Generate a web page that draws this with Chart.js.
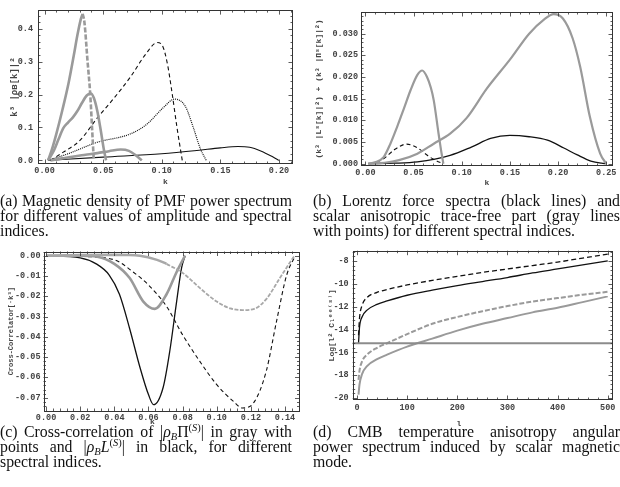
<!DOCTYPE html>
<html>
<head>
<meta charset="utf-8">
<script src="https://cdn.jsdelivr.net/npm/chart.js@4"></script>
<style>
body { margin: 0; background: #fff; width: 620px; height: 487px; position: relative; overflow: hidden; }
canvas { position: absolute; }
.legenda { position: absolute; font-family: "Liberation Serif", "DejaVu Serif", serif; font-size: 15.8px; line-height: 15px; color: #111; }
.legenda div { white-space: nowrap; text-align: justify; text-align-last: justify; height: 15px; }
.legenda div.fim { text-align-last: left; }
.ind { font-size: 10.5px; position: relative; line-height: 0; vertical-align: baseline; }
.sub { top: 3px; }
.sup { top: -6px; }
</style>
</head>
<body>
<canvas id="painelA" width="300" height="195" style="left:0;top:0"></canvas>
<canvas id="painelB" width="310" height="195" style="left:310px;top:0"></canvas>
<canvas id="painelC" width="310" height="195" style="left:0;top:240px"></canvas>
<canvas id="painelD" width="310" height="195" style="left:310px;top:240px"></canvas>

<div class="legenda" style="left:0;top:193px;width:292px">
  <div>(a) Magnetic density of PMF power spectrum</div>
  <div>for different values of amplitude and spectral</div>
  <div class="fim">indices.</div>
</div>
<div class="legenda" style="left:313px;top:193px;width:307px">
  <div>(b) Lorentz force spectra (black lines) and</div>
  <div>scalar anisotropic trace-free part (gray lines</div>
  <div class="fim">with points) for different spectral indices.</div>
</div>
<div class="legenda" style="left:0;top:424px;width:292px">
  <div>(c) Cross-correlation of |<i>ρ</i><span class="ind sub"><i>B</i></span>Π<span class="ind sup">(<i>S</i>)</span>| in gray with</div>
  <div>points and |<i>ρ</i><span class="ind sub"><i>B</i></span><i>L</i><span class="ind sup">(<i>S</i>)</span>| in black, for different</div>
  <div class="fim">spectral indices.</div>
</div>
<div class="legenda" style="left:313px;top:424px;width:307px">
  <div>(d) CMB temperature anisotropy angular</div>
  <div>power spectrum induced by scalar magnetic</div>
  <div class="fim">mode.</div>
</div>

<script>
// ---------- (a) densidade magnética ----------
const kA_cinza1 = [0.003, 0.006, 0.01, 0.015, 0.0205, 0.025, 0.028, 0.031, 0.0325, 0.034, 0.0367, 0.039, 0.0405, 0.042];
const yA_cinza1 = [0, 0.03, 0.08, 0.15, 0.235, 0.32, 0.38, 0.43, 0.445, 0.42, 0.3, 0.2, 0.1, 0];
const kA_cinza2 = [0.003, 0.008, 0.012, 0.016, 0.02, 0.024, 0.028, 0.032, 0.036, 0.0395, 0.042, 0.045, 0.048, 0.0505, 0.0525];
const yA_cinza2 = [0, 0.03, 0.065, 0.098, 0.115, 0.13, 0.15, 0.175, 0.197, 0.203, 0.19, 0.15, 0.09, 0.035, 0];
const kA_cinza3 = [0.005, 0.015, 0.025, 0.035, 0.045, 0.055, 0.065, 0.072, 0.078, 0.083];
const yA_cinza3 = [0, 0.006, 0.012, 0.017, 0.022, 0.028, 0.033, 0.029, 0.015, 0];
const kA_tracejada = [0.005, 0.016, 0.03, 0.045, 0.059, 0.073, 0.087, 0.096, 0.101, 0.105, 0.109, 0.113, 0.1175];
const yA_tracejada = [0, 0.025, 0.06, 0.129, 0.188, 0.252, 0.326, 0.358, 0.345, 0.29, 0.2, 0.1, 0];
const kA_pontilhada = [0.003, 0.02, 0.045, 0.073, 0.087, 0.101, 0.111, 0.12, 0.127, 0.133, 0.138];
const yA_pontilhada = [0, 0.02, 0.055, 0.08, 0.109, 0.159, 0.186, 0.165, 0.099, 0.035, 0];
const kA_solida = [0.003, 0.05, 0.1, 0.13, 0.15, 0.165, 0.175, 0.185, 0.195, 0.2];
const yA_solida = [0, 0.01, 0.02, 0.03, 0.038, 0.042, 0.04, 0.028, 0.01, 0];
const ticksXA = [0, 0.05, 0.1, 0.15, 0.2];
const ticksYA = [0, 0.1, 0.2, 0.3, 0.4];

// ---------- (b) força de Lorentz ----------
const kB_cinza1 = [0.003, 0.01, 0.019, 0.026, 0.033, 0.04, 0.047, 0.054, 0.059, 0.064, 0.068, 0.071, 0.076, 0.079, 0.081];
const yB_cinza1 = [0, 0.0003, 0.0015, 0.0046, 0.0085, 0.0127, 0.017, 0.0205, 0.0215, 0.02, 0.0175, 0.0146, 0.0069, 0.0025, 0];
const kB_cinza2 = [0.003, 0.02, 0.035, 0.054, 0.071, 0.088, 0.105, 0.126, 0.15, 0.17, 0.185, 0.1955, 0.205, 0.215, 0.223, 0.233, 0.2437, 0.25];
const yB_cinza2 = [0, 0.0002, 0.0008, 0.0023, 0.0046, 0.0069, 0.0105, 0.0173, 0.024, 0.03, 0.0332, 0.0345, 0.0335, 0.029, 0.0223, 0.0108, 0.0023, 0];
const kB_tracejada = [0.005, 0.01, 0.02, 0.03, 0.043, 0.055, 0.065, 0.075, 0.081];
const yB_tracejada = [0, 0.0002, 0.0013, 0.0032, 0.0045, 0.0035, 0.0018, 0.0005, 0];
const kB_solida = [0.003, 0.03, 0.054, 0.088, 0.11, 0.13, 0.15, 0.17, 0.189, 0.206, 0.22, 0.234, 0.245, 0.25];
const yB_solida = [0, 0.0001, 0.0004, 0.0019, 0.0038, 0.0058, 0.0065, 0.0062, 0.0054, 0.0036, 0.002, 0.0006, 0.0001, 0];
const ticksXB = [0, 0.05, 0.1, 0.15, 0.2, 0.25];
const ticksYB = [0, 0.005, 0.01, 0.015, 0.02, 0.025, 0.03];

// ---------- (c) correlação cruzada ----------
const kC_solida = [0, 0.02, 0.0294, 0.037, 0.043, 0.049, 0.055, 0.06, 0.063, 0.0686, 0.0725, 0.0765, 0.0794, 0.0815];
const yC_solida = [0, -0.001, -0.004, -0.0095, -0.019, -0.036, -0.055, -0.0685, -0.0735, -0.065, -0.047, -0.0226, -0.006, 0];
const kC_cinza1 = [0, 0.02, 0.03, 0.04, 0.049, 0.057, 0.0637, 0.0706, 0.0765, 0.0814];
const yC_cinza1 = [0, 0, -0.0005, -0.004, -0.011, -0.0226, -0.0262, -0.019, -0.008, 0];
const kC_cinza2 = [0, 0.02, 0.04, 0.055, 0.065, 0.0706, 0.0804, 0.0902, 0.1, 0.108, 0.115, 0.122, 0.1294, 0.137, 0.142, 0.1455];
const yC_cinza2 = [0, 0.0004, 0.0005, 0, -0.002, -0.004, -0.0087, -0.016, -0.0226, -0.026, -0.0268, -0.0262, -0.021, -0.011, -0.0045, 0];
const kC_tracejada = [0, 0.02, 0.04, 0.051, 0.06, 0.0706, 0.08, 0.09, 0.1, 0.11, 0.115, 0.1216, 0.129, 0.135, 0.141, 0.146];
const yC_tracejada = [0, -0.0003, -0.002, -0.008, -0.0144, -0.025, -0.039, -0.052, -0.0636, -0.072, -0.0751, -0.0726, -0.057, -0.0325, -0.0095, 0];
const ticksXC = [0, 0.02, 0.04, 0.06, 0.08, 0.1, 0.12, 0.14];
const ticksYC = [0, -0.01, -0.02, -0.03, -0.04, -0.05, -0.06, -0.07];

// ---------- (d) espectro angular ----------
const lD = [3, 5, 10, 20, 40, 60, 100, 150, 200, 250, 300, 350, 400, 450, 500];
const yD_tracejada = [-14.5, -13.0, -11.9, -11.2, -10.75, -10.5, -10.1, -9.7, -9.35, -9.0, -8.7, -8.4, -8.1, -7.75, -7.4];
const yD_solida = [-15.2, -13.8, -12.9, -12.3, -11.8, -11.5, -11.0, -10.55, -10.15, -9.8, -9.45, -9.05, -8.7, -8.35, -8.0];
const yD_cinzaTrac = [-18.4, -17.6, -16.8, -16.2, -15.6, -15.2, -14.4, -13.5, -12.9, -12.4, -11.95, -11.55, -11.25, -10.95, -10.7];
const yD_cinzaSol = [-19.7, -18.8, -17.9, -17.2, -16.6, -16.2, -15.5, -14.8, -14.1, -13.5, -13.0, -12.5, -12.1, -11.6, -11.1];
const lD_limite = [-20, 520];
const yD_limite = [-15.2, -15.2];
const ticksXD = [0, 100, 200, 300, 400, 500];
const ticksYD = [-20, -18, -16, -14, -12, -10, -8];

const pontos = (xs, ys) => xs.map((x, i) => ({ x: x, y: ys[i] }));

const preta = (d, tracos, largura) => ({
    data: d, borderColor: '#111', borderWidth: largura || 1.1, borderDash: tracos || [],
    pointRadius: 0, showLine: true, cubicInterpolationMode: 'monotone', fill: false
});
const cinza = (d, tracos, largura, cor) => ({
    data: d, borderColor: cor || '#9a9a9a', borderWidth: largura || 2.6, borderDash: tracos || [],
    pointRadius: 0, showLine: true, cubicInterpolationMode: 'monotone', fill: false
});

// moldura com marcas de escala para dentro (estilo Mathematica)
const moldura = {
    id: 'moldura',
    afterDatasetsDraw(chart, args, opts) {
        const ctx = chart.ctx;
        const a = chart.chartArea;
        const sx = chart.scales.x, sy = chart.scales.y;
        ctx.save();
        ctx.strokeStyle = '#333';
        ctx.lineWidth = 1;
        ctx.strokeRect(Math.round(a.left) + 0.5, Math.round(a.top) + 0.5,
            Math.round(a.right - a.left) - 1, Math.round(a.bottom - a.top) - 1);
        ctx.lineWidth = 0.8;
        ctx.beginPath();
        const marcarX = (v, len) => {
            const p = Math.round(sx.getPixelForValue(v)) + 0.5;
            if (p < a.left + 1 || p > a.right - 1) return;
            ctx.moveTo(p, a.bottom); ctx.lineTo(p, a.bottom - len);
            ctx.moveTo(p, a.top); ctx.lineTo(p, a.top + len);
        };
        const marcarY = (v, len) => {
            const p = Math.round(sy.getPixelForValue(v)) + 0.5;
            if (p < a.top + 1 || p > a.bottom - 1) return;
            ctx.moveTo(a.left, p); ctx.lineTo(a.left + len, p);
            ctx.moveTo(a.right, p); ctx.lineTo(a.right - len, p);
        };
        const passoX = (opts.xt[1] - opts.xt[0]) / 5;
        const passoY = (opts.yt[1] - opts.yt[0]) / 5;
        for (let i = -60; i <= 60; i++) {
            marcarX(opts.xt[0] + i * passoX, i % 5 === 0 ? 4.5 : 2.5);
            marcarY(opts.yt[0] + i * passoY, i % 5 === 0 ? 4.5 : 2.5);
        }
        ctx.stroke();
        ctx.restore();
    }
};

const fonteTick = { family: '"Liberation Mono", "DejaVu Sans Mono", monospace', size: 8.5, weight: 'bold' };

function montarPainel(id, cfg) {
    const ctx = document.getElementById(id).getContext('2d');
    return new Chart(ctx, {
        type: 'scatter',
        data: { datasets: cfg.datasets },
        plugins: [moldura],
        options: {
            responsive: false,
            animation: false,
            events: [],
            layout: { padding: cfg.pad },
            plugins: {
                legend: { display: false },
                tooltip: { enabled: false },
                moldura: { xt: cfg.xt, yt: cfg.yt }
            },
            scales: {
                x: {
                    type: 'linear', min: cfg.xmin, max: cfg.xmax,
                    grid: { display: false, drawTicks: false },
                    border: { display: false },
                    afterBuildTicks: s => { s.ticks = cfg.xt.map(v => ({ value: v })); },
                    afterFit: s => { s.height = cfg.xh; },
                    ticks: { padding: cfg.xpad, color: '#444', font: fonteTick, maxRotation: 0, autoSkip: false,
                        callback: v => cfg.xfmt(v) },
                    title: { display: true, text: cfg.xtitle, color: '#444', padding: { top: 0, bottom: cfg.xtp },
                        font: { family: '"Liberation Mono", "DejaVu Sans Mono", monospace', size: 8, weight: 'bold' } }
                },
                y: {
                    type: 'linear', min: cfg.ymin, max: cfg.ymax,
                    grid: { display: false, drawTicks: false },
                    border: { display: false },
                    afterBuildTicks: s => { s.ticks = cfg.yt.map(v => ({ value: v })); },
                    afterFit: s => { s.width = cfg.yw; },
                    ticks: { padding: cfg.ypad, color: '#444', font: fonteTick, autoSkip: false,
                        callback: v => cfg.yfmt(v) },
                    title: { display: true, text: cfg.ytitle, color: '#444', padding: { top: cfg.ytp, bottom: 0 },
                        font: { family: '"Liberation Mono", "DejaVu Sans Mono", monospace', size: cfg.ytsize, weight: 'bold' } }
                }
            }
        }
    });
}

const nbsp = n => '\u00a0'.repeat(n);

// (a)
const curvaA1 = pontos(kA_cinza1, yA_cinza1);
montarPainel('painelA', {
    datasets: [
        cinza(curvaA1.slice(0, 9)),
        cinza(curvaA1.slice(8), [5, 2]),
        cinza(pontos(kA_cinza2, yA_cinza2)),
        cinza(pontos(kA_cinza3, yA_cinza3)),
        preta(pontos(kA_tracejada, yA_tracejada), [4, 3]),
        preta(pontos(kA_pontilhada, yA_pontilhada), [1, 1], 1.2),
        preta(pontos(kA_solida, yA_solida))
    ],
    pad: { left: 0, right: 7, top: 6, bottom: 0 },
    xmin: -0.0056, xmax: 0.212, ymin: -0.011, ymax: 0.4565,
    xt: ticksXA, yt: ticksYA,
    xfmt: v => v.toFixed(2), yfmt: v => v.toFixed(1),
    xh: 31, yw: 38, xpad: 2, ypad: 5, xtp: 8.5, ytp: 9, ytsize: 9,
    xtitle: 'k', ytitle: 'k³ |ρʙ[k]|²'
});

// (b)
montarPainel('painelB', {
    datasets: [
        cinza(pontos(kB_cinza1, yB_cinza1), [], 2.2),
        cinza(pontos(kB_cinza2, yB_cinza2), [], 2.2),
        preta(pontos(kB_tracejada, yB_tracejada), [4, 3]),
        preta(pontos(kB_solida, yB_solida), [], 1.3)
    ],
    pad: { left: 0, right: 7, top: 12, bottom: 0 },
    xmin: -0.0045, xmax: 0.257, ymin: -0.00055, ymax: 0.035,
    xt: ticksXB, yt: ticksYB,
    xfmt: v => v.toFixed(2), yfmt: v => v.toFixed(3),
    xh: 29, yw: 51, xpad: 2, ypad: 3, xtp: 7.5, ytp: 4.5, ytsize: 8,
    xtitle: 'k', ytitle: '(k³ |Lˢ[k]|²) + (k³ |Πˢ[k]|²)'
});

// (c)
const curvaC2 = pontos(kC_cinza2, yC_cinza2);
montarPainel('painelC', {
    datasets: [
        cinza(curvaC2.slice(5), [4, 1.5], 1.8, '#a8a8a8'),
        cinza(curvaC2.slice(0, 6), [], 2.4, '#a8a8a8'),
        cinza(pontos(kC_cinza1, yC_cinza1), [], 2.6),
        preta(pontos(kC_tracejada, yC_tracejada), [4, 3]),
        preta(pontos(kC_solida, yC_solida), [], 1.3)
    ],
    pad: { left: 0, right: 10.5, top: 11.5, bottom: 0 },
    xmin: -0.0015, xmax: 0.1485, ymin: -0.0766, ymax: 0.0021,
    xt: ticksXC, yt: ticksYC,
    xfmt: v => v.toFixed(2), yfmt: v => (v === 0 ? '0.00' : v.toFixed(2)),
    xh: 24, yw: 43.5, xpad: 2, ypad: 3, xtp: 8, ytp: 7.5, ytsize: 7,
    xtitle: 'k' + nbsp(8), ytitle: 'Cross-Correlator[·k³]'
});

// (d)
montarPainel('painelD', {
    datasets: [
        cinza(pontos(lD_limite, yD_limite), [], 2.2, '#8c8c8c'),
        preta(pontos(lD, yD_tracejada), [5, 3], 1.3),
        preta(pontos(lD, yD_solida), [], 1.3),
        cinza(pontos(lD, yD_cinzaTrac), [5, 2], 2),
        cinza(pontos(lD, yD_cinzaSol), [], 2)
    ],
    pad: { left: 0, right: 7, top: 10.7, bottom: 0 },
    xmin: -8.6, xmax: 510.5, ymin: -20.17, ymax: -7.1,
    xt: ticksXD, yt: ticksYD,
    xfmt: v => String(v), yfmt: v => String(v),
    xh: 35, yw: 42.7, xpad: 3, ypad: 4, xtp: 6, ytp: 17, ytsize: 8,
    xtitle: 'l' + nbsp(10), ytitle: 'Log[l² Cₗᵉᵉ⁽ˢ⁾]'
});
</script>
</body>
</html>
